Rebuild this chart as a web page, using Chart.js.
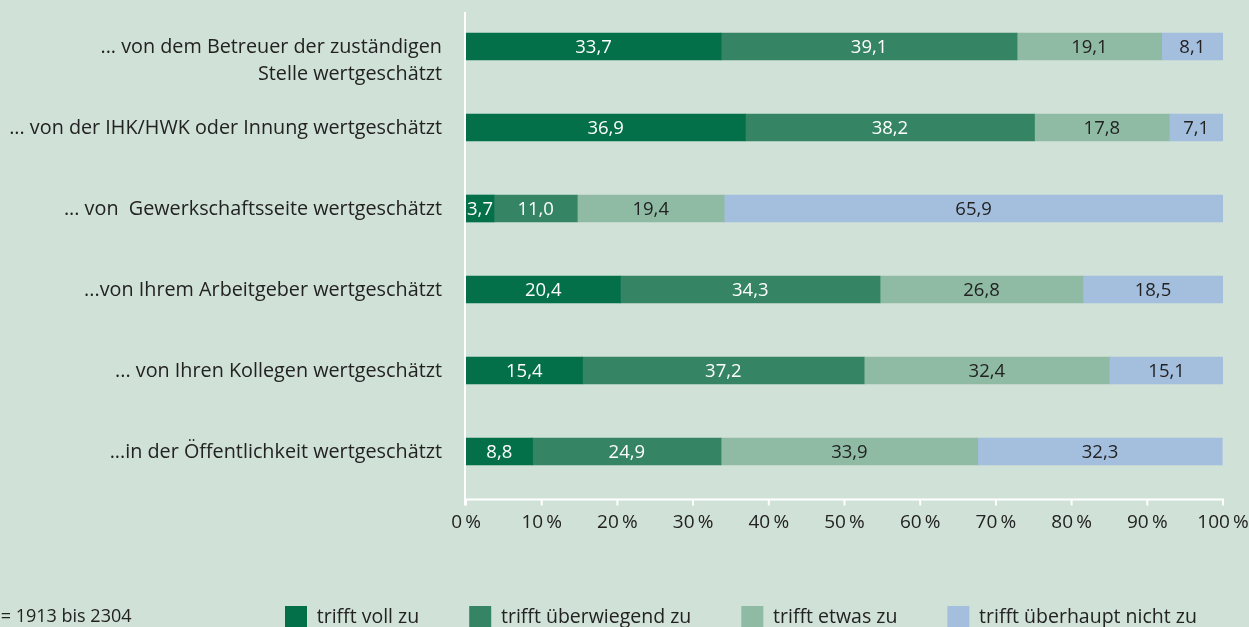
<!doctype html>
<html lang="de">

<head>
  <meta charset="utf-8">
  <title>Wertschätzung</title>
  <style>
    html, body { margin: 0; padding: 0; background: #d0e1d7; overflow: hidden; }
    #wrap { width: 1249px; height: 627px; }
  </style>
</head>

<body>
  <div id="wrap">
    <canvas id="chart" width="1249" height="627"></canvas>
  </div>

  <script src="https://cdn.jsdelivr.net/npm/chart.js"></script>

  <script>
    const categories = [
      ['... von dem Betreuer der zuständigen', 'Stelle wertgeschätzt'],
      ['... von der IHK/HWK oder Innung wertgeschätzt'],
      ['... von  Gewerkschaftsseite wertgeschätzt'],
      ['...von Ihrem Arbeitgeber wertgeschätzt'],
      ['... von Ihren Kollegen wertgeschätzt'],
      ['...in der Öffentlichkeit wertgeschätzt']
    ];

    const seriesNames = ['trifft voll zu', 'trifft überwiegend zu', 'trifft etwas zu', 'trifft überhaupt nicht zu'];

    const trifftVoll = [33.7, 36.9, 3.7, 20.4, 15.4, 8.8];
    const trifftUeberwiegend = [39.1, 38.2, 11.0, 34.3, 37.2, 24.9];
    const trifftEtwas = [19.1, 17.8, 19.4, 26.8, 32.4, 33.9];
    const trifftNicht = [8.1, 7.1, 65.9, 18.5, 15.1, 32.3];

    const sampleNote = 'n = 1913 bis 2304';

    const colors = ['#03704a', '#358564', '#8fbba5', '#a4bfde'];
    const labelColors = ['#ffffff', '#ffffff', '#222222', '#222222'];
    const FONT = "'Open Sans', sans-serif";
    const TEXT = '#222222';

    // values inside the bar segments
    const valueLabels = {
      id: 'valueLabels',
      afterDatasetsDraw(chart) {
        const ctx = chart.ctx;
        ctx.save();
        ctx.font = '18.5px ' + FONT;
        ctx.textAlign = 'center';
        ctx.textBaseline = 'middle';
        chart.data.datasets.forEach((ds, i) => {
          const meta = chart.getDatasetMeta(i);
          ctx.fillStyle = labelColors[i];
          meta.data.forEach((bar, j) => {
            const txt = ds.data[j].toFixed(1).replace('.', ',');
            ctx.fillText(txt, (bar.x + bar.base) / 2, bar.y + 1);
          });
        });
        ctx.restore();
      }
    };

    // category labels (first line on the bar, extra lines below), white axis lines, n note
    const axisDecor = {
      id: 'axisDecor',
      afterDraw(chart) {
        const ctx = chart.ctx;
        const area = chart.chartArea;
        const x = chart.scales.x;
        const y = chart.scales.y;
        ctx.save();

        ctx.fillStyle = TEXT;
        ctx.font = '19.8px ' + FONT;
        ctx.textAlign = 'right';
        ctx.textBaseline = 'middle';
        chart.data.labels.forEach((lines, i) => {
          const py = y.getPixelForValue(i);
          lines.forEach((line, k) => ctx.fillText(line, area.left - 24, py + 1 + k * 27));
        });

        const yAxis = area.bottom + 7.5;
        ctx.strokeStyle = '#ffffff';
        ctx.lineWidth = 2;
        ctx.beginPath();
        ctx.moveTo(area.left - 1, area.top + 6);
        ctx.lineTo(area.left - 1, yAxis + 6);
        ctx.moveTo(x.getPixelForValue(0) - 2, yAxis);
        ctx.lineTo(x.getPixelForValue(100) + 1, yAxis);
        x.ticks.forEach(t => {
          const px = Math.min(x.getPixelForValue(t.value), x.getPixelForValue(100));
          ctx.moveTo(px, yAxis);
          ctx.lineTo(px, yAxis + 6);
        });
        ctx.stroke();

        const hb = chart.legend.legendHitBoxes[0];
        ctx.font = '18px ' + FONT;
        ctx.textAlign = 'left';
        ctx.fillText(sampleNote, -15, hb.top + hb.height / 2);
        ctx.restore();
      }
    };

    const seriesData = [trifftVoll, trifftUeberwiegend, trifftEtwas, trifftNicht];

    new Chart(document.getElementById('chart'), {
      type: 'bar',
      data: {
        labels: categories,
        datasets: seriesData.map((d, i) => ({
          label: seriesNames[i],
          data: d,
          backgroundColor: colors[i],
          borderWidth: 0,
          barThickness: 27
        }))
      },
      options: {
        indexAxis: 'y',
        responsive: false,
        animation: false,
        layout: {
          padding: { left: 235, right: 0, top: 6, bottom: 0 }
        },
        scales: {
          x: {
            stacked: true,
            min: 0,
            max: 100,
            grid: { display: false, drawTicks: false },
            border: { display: false },
            ticks: {
              stepSize: 10,
              padding: 19,
              color: TEXT,
              font: { family: FONT, size: 19 },
              maxRotation: 0,
              callback: v => v + '\u2009%'
            },
            // keep room right of the plot for the "100 %" label
            afterFit: s => { s.height = 64; s.paddingLeft = 0; s.paddingRight = 26; }
          },
          y: {
            stacked: true,
            grid: { display: false, drawTicks: false },
            border: { display: false },
            ticks: { display: false },
            afterFit: s => { s.width = 231; }
          }
        },
        plugins: {
          legend: {
            position: 'bottom',
            align: 'start',
            maxHeight: 71,
            labels: {
              boxWidth: 22,
              boxHeight: 22,
              padding: 50,
              color: TEXT,
              font: { family: FONT, size: 19.5 }
            }
          },
          tooltip: { enabled: false }
        }
      },
      plugins: [valueLabels, axisDecor]
    });
  </script>
</body>

</html>
